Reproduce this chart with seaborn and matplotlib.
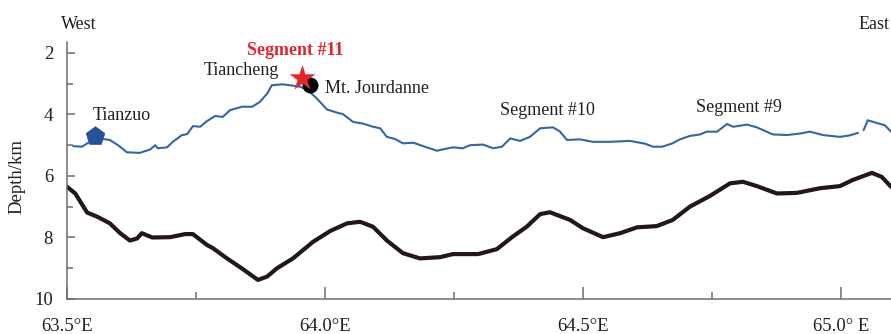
import matplotlib
matplotlib.use("Agg")
import matplotlib.pyplot as plt
import seaborn as sns
import pandas as pd
from matplotlib.ticker import MultipleLocator

# ---- data ----
# Seafloor profile (blue), western main segment
sea_lon = [63.512, 63.529, 63.554, 63.570, 63.583, 63.599, 63.616, 63.641, 63.661,
           63.671, 63.676, 63.694, 63.705, 63.723, 63.733, 63.744, 63.758, 63.771,
           63.787, 63.802, 63.816, 63.839, 63.859, 63.874, 63.888, 63.897, 63.917,
           63.932, 63.952, 63.967, 63.984, 64.004, 64.025, 64.035, 64.054, 64.074,
           64.093, 64.107, 64.120, 64.136, 64.151, 64.171, 64.194, 64.217, 64.233,
           64.248, 64.267, 64.281, 64.306, 64.326, 64.343, 64.359, 64.378, 64.397,
           64.417, 64.442, 64.455, 64.469, 64.494, 64.519, 64.552, 64.591, 64.620,
           64.636, 64.653, 64.672, 64.688, 64.707, 64.727, 64.740, 64.760, 64.779,
           64.791, 64.818, 64.837, 64.868, 64.895, 64.921, 64.940, 64.965, 64.998,
           65.017, 65.033]
sea_depth = [5.03, 5.05, 4.78, 4.80, 4.83, 5.00, 5.23, 5.25, 5.14,
             5.00, 5.10, 5.07, 4.89, 4.67, 4.64, 4.38, 4.40, 4.22,
             4.05, 4.08, 3.86, 3.75, 3.75, 3.59, 3.32, 3.05, 3.02,
             3.05, 3.10, 3.21, 3.48, 3.84, 3.95, 3.99, 4.24, 4.30,
             4.40, 4.45, 4.73, 4.80, 4.94, 4.92, 5.05, 5.18, 5.12,
             5.07, 5.10, 5.00, 4.98, 5.10, 5.05, 4.78, 4.86, 4.73,
             4.45, 4.42, 4.55, 4.83, 4.81, 4.89, 4.89, 4.86, 4.95,
             5.05, 5.05, 4.95, 4.81, 4.70, 4.65, 4.56, 4.56, 4.31,
             4.40, 4.33, 4.42, 4.65, 4.67, 4.62, 4.56, 4.67, 4.73,
             4.68, 4.60]
# Seafloor profile (blue), eastern short segment after the gap
sea_lon_e = [65.044, 65.052, 65.072, 65.085, 65.097]
sea_depth_e = [4.51, 4.19, 4.29, 4.35, 4.56]

# Deep interface (black)
moho_lon = [63.500, 63.516, 63.539, 63.558, 63.583, 63.603, 63.622, 63.636, 63.645,
            63.665, 63.700, 63.729, 63.744, 63.771, 63.783, 63.810, 63.841, 63.870,
            63.888, 63.907, 63.938, 63.977, 64.010, 64.043, 64.068, 64.093, 64.120,
            64.151, 64.184, 64.223, 64.248, 64.297, 64.333, 64.364, 64.391, 64.417,
            64.436, 64.475, 64.500, 64.539, 64.572, 64.605, 64.643, 64.674, 64.707,
            64.746, 64.785, 64.810, 64.837, 64.876, 64.915, 64.959, 64.998, 65.023,
            65.060, 65.079, 65.097]
moho_depth = [6.35, 6.57, 7.19, 7.32, 7.54, 7.86, 8.10, 8.03, 7.86,
              8.00, 7.99, 7.89, 7.89, 8.24, 8.35, 8.68, 9.03, 9.38,
              9.27, 9.00, 8.68, 8.14, 7.79, 7.54, 7.49, 7.65, 8.10,
              8.51, 8.68, 8.64, 8.54, 8.54, 8.38, 7.97, 7.65, 7.24,
              7.18, 7.43, 7.70, 7.99, 7.86, 7.67, 7.63, 7.43, 7.00,
              6.65, 6.24, 6.19, 6.33, 6.57, 6.55, 6.40, 6.33, 6.13,
              5.90, 6.03, 6.35]

# Point features
tianzuo = (63.554, 4.70)
tiancheng = (63.955, 2.83)
jourdanne = (63.971, 3.05)

x_ticks = [63.5, 64.0, 64.5, 65.0]
x_ticklabels = ["63.5°E", "64.0°E", "64.5°E", "65.0° E"]
y_ticks = [2, 4, 6, 8, 10]

# ---- styling ----
sns.set_theme(style="ticks")
plt.rcParams["font.family"] = ["Liberation Serif", "DejaVu Serif"]

BLUE = "#3366a8"
PENT = "#27519a"
RED = "#e3262b"
BLACK = "#231815"
AXC = "#6e6e6e"
TXT = "#231f20"

fig = plt.figure(figsize=(8.91, 3.34), dpi=100)
ax = fig.add_axes([0.0752, 0.1048, 0.9248, 0.769])

df_sea = pd.DataFrame({"lon": sea_lon, "depth": sea_depth})
df_sea_e = pd.DataFrame({"lon": sea_lon_e, "depth": sea_depth_e})
df_moho = pd.DataFrame({"lon": moho_lon, "depth": moho_depth})

sns.lineplot(data=df_moho, x="lon", y="depth", ax=ax, color=BLACK, lw=3.0,
             sort=False, estimator=None, solid_joinstyle="round", solid_capstyle="round")
sns.lineplot(data=df_sea, x="lon", y="depth", ax=ax, color=BLUE, lw=1.5,
             sort=False, estimator=None)
sns.lineplot(data=df_sea_e, x="lon", y="depth", ax=ax, color=BLUE, lw=1.5,
             sort=False, estimator=None)

sns.scatterplot(x=[tianzuo[0]], y=[tianzuo[1]], ax=ax, marker="p", s=200,
                color=PENT, edgecolor=PENT, linewidth=0.5, zorder=5)
sns.scatterplot(x=[jourdanne[0]], y=[jourdanne[1]], ax=ax, marker="o", s=120,
                color="black", edgecolor="black", linewidth=0.5, zorder=5)
sns.scatterplot(x=[tiancheng[0]], y=[tiancheng[1]], ax=ax, marker="*", s=340,
                color=RED, edgecolor=RED, linewidth=0.3, zorder=6)

ax.set_xlim(63.5, 65.097)
ax.set_ylim(10, 1.65)

ax.set_xticks(x_ticks)
ax.set_xticklabels(x_ticklabels)
ax.set_yticks(y_ticks)
ax.xaxis.set_minor_locator(MultipleLocator(0.25))
ax.yaxis.set_minor_locator(MultipleLocator(1))

ax.tick_params(which="both", direction="in", color=AXC, width=1.1, labelcolor=TXT,
               labelsize=13.5)
ax.tick_params(axis="x", which="major", length=9, pad=14)
ax.tick_params(axis="x", which="minor", length=5)
ax.tick_params(axis="y", which="major", length=6, pad=10)
ax.tick_params(axis="y", which="minor", length=4)

for side in ["top", "right"]:
    ax.spines[side].set_visible(False)
for side in ["left", "bottom"]:
    ax.spines[side].set_color(AXC)
    ax.spines[side].set_linewidth(1.1)

ax.set_xlabel("")
ax.set_ylabel("Depth/km", fontsize=13.5, color=TXT)
ax.yaxis.set_label_coords(-0.050, 0.475)

fs = 13
ax.text(63.523, 1.07, "West", ha="center", va="center", fontsize=fs, color=TXT)
ax.text(65.064, 1.07, "East", ha="center", va="center", fontsize=fs, color=TXT)
ax.text(63.942, 1.91, "Segment #11", ha="center", va="center", fontsize=fs,
        color=RED, fontweight="bold")
ax.text(63.837, 2.56, "Tiancheng", ha="center", va="center", fontsize=fs, color=TXT)
ax.text(64.000, 3.15, "Mt. Jourdanne", ha="left", va="center", fontsize=fs, color=TXT)
ax.text(63.607, 4.02, "Tianzuo", ha="center", va="center", fontsize=fs, color=TXT)
ax.text(64.432, 3.86, "Segment #10", ha="center", va="center", fontsize=fs, color=TXT)
ax.text(64.802, 3.76, "Segment #9", ha="center", va="center", fontsize=fs, color=TXT)

fig.savefig("out.png", dpi=100)
